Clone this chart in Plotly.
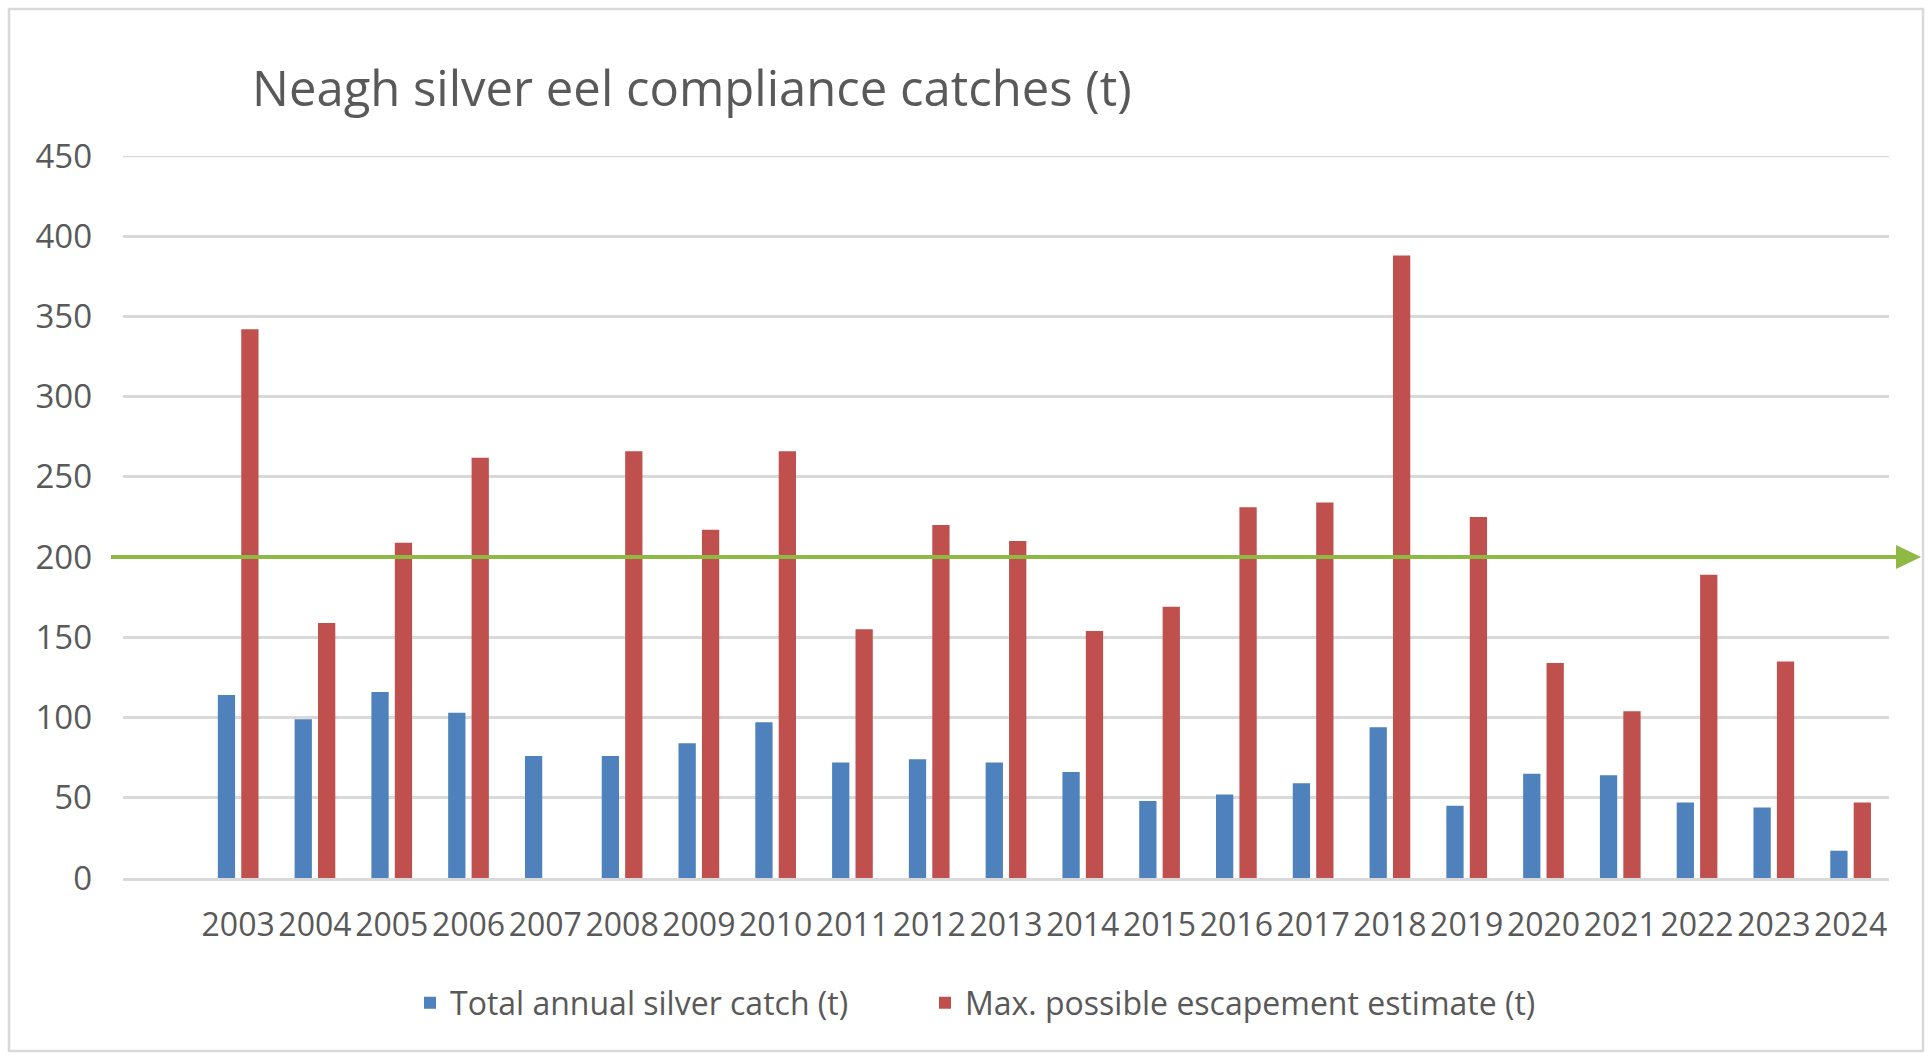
import plotly.graph_objects as go

years = [2003, 2004, 2005, 2006, 2007, 2008, 2009, 2010, 2011, 2012, 2013,
         2014, 2015, 2016, 2017, 2018, 2019, 2020, 2021, 2022, 2023, 2024]
year_labels = [str(y) for y in years]
silver_catch = [114, 99, 116, 103, 76, 76, 84, 97, 72, 74, 72,
                66, 48, 52, 59, 94, 45, 65, 64, 47, 44, 17]
escapement = [342, 159, 209, 262, None, 266, 217, 266, 155, 220, 210,
              154, 169, 231, 234, 388, 225, 134, 104, 189, 135, 47]
threshold = 200
y_ticks = [0, 50, 100, 150, 200, 250, 300, 350, 400, 450]

BLUE = "#4F81BD"
RED = "#C0504D"
GREEN = "#8DB944"
GRID = "#D9D9D9"
TEXT = "#595959"
FONT = "Open Sans"

W, H = 1930, 1059
L, R, T, B = 123, 41, 156, 181
PW = W - L - R
PH = H - T - B

def px_x(p):
    return (p - L) / PW

def px_y(p):
    return (H - B - p) / PH

fig = go.Figure()
fig.add_trace(go.Bar(
    x=years, y=silver_catch, name="Total annual silver catch (t)",
    marker=dict(color=BLUE, line=dict(width=0)), width=0.225, offset=-0.265,
    legend="legend",
))
fig.add_trace(go.Bar(
    x=years, y=escapement, name="Max. possible escapement estimate (t)",
    marker=dict(color=RED, line=dict(width=0)), width=0.225, offset=0.04,
    legend="legend2",
))

# threshold arrow line
fig.add_shape(type="line", xref="paper", yref="y",
              x0=px_x(111), x1=px_x(1900), y0=threshold, y1=threshold,
              line=dict(color=GREEN, width=4), layer="above")
ah = 12 * 450 / PH
fig.add_shape(type="path", xref="paper", yref="y",
              path=f"M {px_x(1896)} {threshold + ah} L {px_x(1921)} {threshold} L {px_x(1896)} {threshold - ah} Z",
              fillcolor=GREEN, line=dict(color=GREEN, width=0), layer="above")
# chart border
fig.add_shape(type="rect", xref="paper", yref="paper",
              x0=px_x(9), x1=px_x(1923), y0=px_y(9), y1=px_y(1051),
              line=dict(color=GRID, width=2.5), layer="below")
# top gridline at 450
fig.add_shape(type="line", xref="paper", yref="y", x0=0, x1=1,
              y0=y_ticks[-1], y1=y_ticks[-1],
              line=dict(color=GRID, width=2.5), layer="below")

legend_common = dict(orientation="h", y=px_y(1003), yanchor="middle",
                     font=dict(family=FONT, size=32, color=TEXT),
                     bgcolor="rgba(0,0,0,0)")

fig.update_layout(
    width=W, height=H,
    margin=dict(l=L, r=R, t=T, b=B, pad=0),
    paper_bgcolor="white", plot_bgcolor="white",
    barmode="overlay",
    font=dict(family=FONT, color=TEXT),
    title=dict(text="Neagh silver eel compliance catches (t)",
               x=px_x(252), xref="paper", xanchor="left",
               y=1 - 89 / H, yref="container", yanchor="middle",
               font=dict(family=FONT, size=49, color=TEXT)),
    showlegend=True,
    legend=dict(x=px_x(410), xanchor="left", **legend_common),
    legend2=dict(x=px_x(925), xanchor="left", **legend_common),
    xaxis=dict(range=[2001.5, 2024.5], tickmode="array", tickvals=years,
               ticktext=year_labels, showgrid=False, zeroline=False,
               showline=True, linecolor=GRID, linewidth=2.5,
               ticks="", tickangle=0, automargin=False,
               tickfont=dict(family=FONT, size=32, color=TEXT),
               ticklabelstandoff=17, fixedrange=True),
    yaxis=dict(range=[0, 450], tickmode="array", tickvals=y_ticks,
               showgrid=True, gridcolor=GRID, gridwidth=2.5,
               zeroline=False, showline=False, ticks="", automargin=False,
               tickfont=dict(family=FONT, size=33, color=TEXT),
               ticklabelstandoff=30, fixedrange=True),
)

fig.write_html("out.html", config={"displayModeBar": False},
               post_script="document.body.style.margin='0';document.body.style.overflow='hidden';")
